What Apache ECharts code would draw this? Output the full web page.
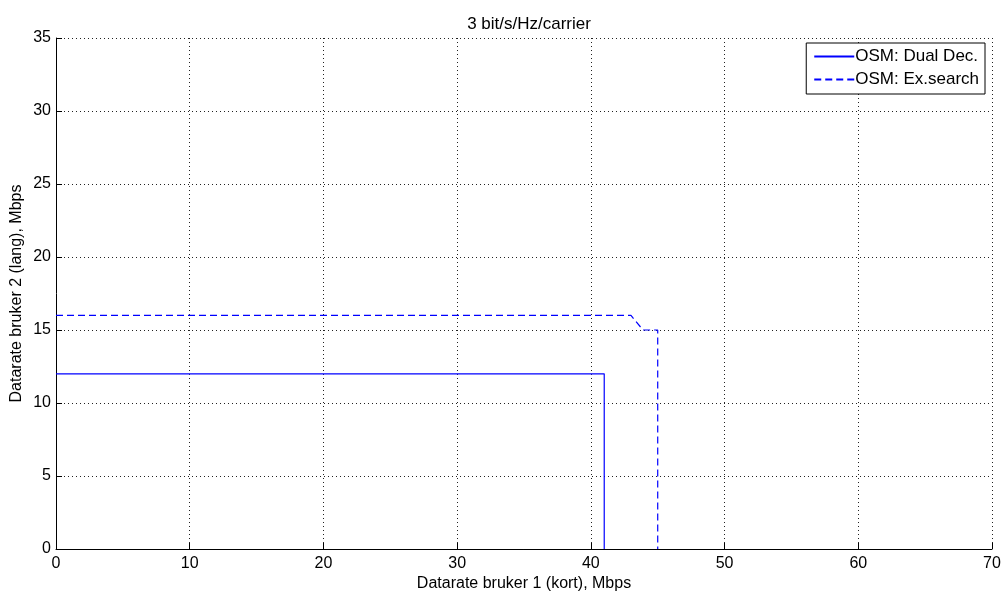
<!DOCTYPE html>
<html><head><meta charset="utf-8">
<script src="https://cdn.jsdelivr.net/npm/echarts@6/dist/echarts.min.js"></script>
<style>html,body{margin:0;padding:0;background:#fff}#c{width:1005px;height:594px}</style>
</head><body><div id="c"></div>
<script>
const title = '3 bit/s/Hz/carrier';
const xName = 'Datarate bruker 1 (kort), Mbps';
const yName = 'Datarate bruker 2 (lang), Mbps';
const seriesNames = ['OSM: Dual Dec.', 'OSM: Ex.search'];
const dualDec = [[0, 12], [41, 12], [41, 0]];
const exSearch = [[0, 16], [43, 16], [43.9, 15], [45, 15], [45, 0]];
const font = 'Liberation Sans, Arial, sans-serif';

const chart = echarts.init(document.getElementById('c'));
const gridLine = {show: true, lineStyle: {color: '#222', type: [1, 3], width: 1}};
chart.setOption({
  animation: false,
  title: {text: title, left: 524, top: 11, textAlign: 'center',
    textStyle: {fontFamily: font, fontSize: 17, fontWeight: 'normal', color: '#000'}},
  grid: {left: 56, right: 13, top: 38, bottom: 45, containLabel: false, outerBoundsMode: 'none'},
  legend: {
    orient: 'vertical', right: 20, top: 43, data: seriesNames,
    backgroundColor: '#fff', borderColor: '#000', borderWidth: 1, borderRadius: 0,
    padding: [5, 6, 6, 7], itemGap: 6, itemWidth: 40, itemHeight: 16,
    itemStyle: {opacity: 0},
    textStyle: {fontFamily: font, fontSize: 17, color: '#000', padding: [0, 0, 0, -4]}
  },
  xAxis: {type: 'value', min: 0, max: 70, interval: 10, position: 'bottom',
    name: xName, nameLocation: 'middle', nameGap: 27, nameMoveOverlap: false,
    nameTextStyle: {fontFamily: font, fontSize: 16, color: '#000'},
    axisLine: {show: true, onZero: false, lineStyle: {color: '#000', width: 1}},
    axisTick: {show: true, inside: true, length: 6, lineStyle: {color: '#000'}},
    axisLabel: {color: '#000', fontFamily: font, fontSize: 16, margin: 7},
    splitLine: gridLine},
  yAxis: {type: 'value', min: 0, max: 35, interval: 5, position: 'left',
    name: yName, nameLocation: 'middle', nameGap: 31, nameMoveOverlap: false,
    nameTextStyle: {fontFamily: font, fontSize: 16, color: '#000'},
    axisLine: {show: true, onZero: false, lineStyle: {color: '#000', width: 1}},
    axisTick: {show: true, inside: true, length: 6, lineStyle: {color: '#000'}},
    axisLabel: {color: '#000', fontFamily: font, fontSize: 16, margin: 5},
    splitLine: gridLine},
  series: [
    {name: seriesNames[0], type: 'line', data: dualDec, symbol: 'none',
      lineStyle: {color: '#0000ff', width: 1.2}, itemStyle: {color: '#0000ff'}},
    {name: seriesNames[1], type: 'line', data: exSearch, symbol: 'none',
      lineStyle: {color: '#0000ff', width: 1.2, type: [7, 4]}, itemStyle: {color: '#0000ff'}}
  ]
});
</script></body></html>
